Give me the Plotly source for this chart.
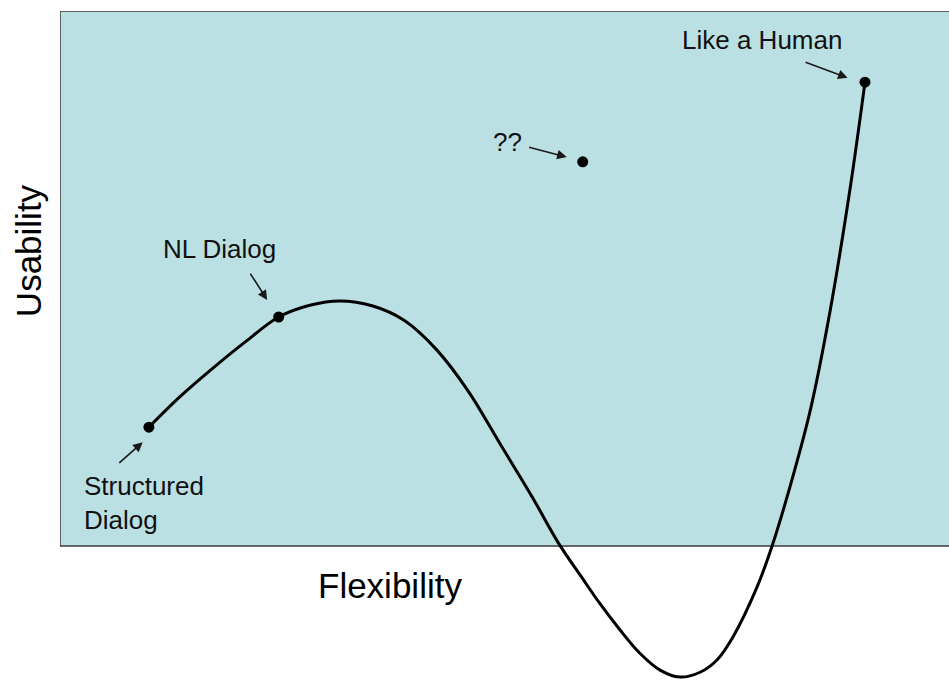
import plotly.graph_objects as go

# Curve (Flexibility vs Usability) (0-100 units)
curve_x = [10.0, 13.5, 17.1, 20.8, 24.6, 28.1, 31.5, 35.1, 38.7, 42.3, 45.9, 49.5,
           53.1, 56.2, 58.5, 60.7, 63.0, 65.2, 67.5, 69.7, 72.0, 73.9, 75.7, 78.4,
           80.1, 82.1, 84.4, 86.6, 88.9, 90.55]
curve_y = [22.2, 27.9, 33.1, 38.1, 42.8, 45.0, 45.8, 44.9, 42.2, 36.8, 29.0, 19.1,
           9.2, 0.2, -5.4, -10.7, -15.7, -20.0, -23.2, -24.5, -23.6, -21.3, -17.0, -7.7,
           0.0, 11.0, 25.4, 43.7, 67.1, 86.7]

# Highlighted points
point_names = ["Structured Dialog", "NL Dialog", "??", "Like a Human"]
point_x = [10.0, 24.6, 58.8, 90.55]
point_y = [22.2, 42.8, 71.8, 86.7]

# Labels: text, centre x, centre y
label_text = ["Like a Human", "??", "NL Dialog", "Structured<br>Dialog"]
label_x = [79.0, 50.3, 17.9, 2.5]
label_y = [94.6, 75.5, 55.5, 8.0]

# Arrows: tail (x, y) -> head (x, y)
arrow_tail_x = [83.7, 52.6, 21.3, 6.5]
arrow_tail_y = [90.5, 74.6, 51.2, 15.3]
arrow_head_x = [88.6, 57.0, 23.3, 9.3]
arrow_head_y = [87.5, 72.7, 46.0, 19.4]

FONT = "Arial, Liberation Sans, sans-serif"

fig = go.Figure()
fig.add_trace(go.Scatter(x=curve_x, y=curve_y, mode="lines",
                         line=dict(color="black", width=3, shape="spline", smoothing=1.0),
                         hoverinfo="skip", showlegend=False))
fig.add_trace(go.Scatter(x=point_x, y=point_y, mode="markers", text=point_names,
                         marker=dict(color="black", size=11),
                         showlegend=False))

shapes = [
    dict(type="rect", xref="x", yref="y", x0=0, x1=100, y0=0, y1=100,
         fillcolor="#bbe0e3", line=dict(width=0), layer="below"),
    dict(type="line", xref="x", yref="y", x0=0, x1=0, y0=0, y1=100,
         line=dict(color="#3a3a3a", width=1.5), layer="below"),
    dict(type="line", xref="x", yref="y", x0=0, x1=100, y0=100, y1=100,
         line=dict(color="#3a3a3a", width=1.5), layer="below"),
    dict(type="line", xref="x", yref="y", x0=0, x1=100, y0=0, y1=0,
         line=dict(color="#3a3a3a", width=1.5), layer="below"),
]

annotations = []
for t, x, y in zip(label_text, label_x, label_y):
    anchor = "left" if t.startswith("Structured") else "center"
    annotations.append(dict(x=x, y=y, xref="x", yref="y", text=t, showarrow=False,
                            xanchor=anchor, yanchor="middle", align="left",
                            font=dict(family=FONT, size=26, color="#111111")))
for tx, ty, hx, hy in zip(arrow_tail_x, arrow_tail_y, arrow_head_x, arrow_head_y):
    annotations.append(dict(x=hx, y=hy, ax=tx, ay=ty, xref="x", yref="y",
                            axref="x", ayref="y", text="", showarrow=True,
                            arrowhead=2, arrowsize=1.2, arrowwidth=1.6,
                            arrowcolor="#1a1a1a", standoff=0))
annotations.append(dict(x=37.1, y=-7.3, xref="x", yref="y", text="Flexibility",
                        showarrow=False, xanchor="center", yanchor="middle",
                        font=dict(family=FONT, size=35, color="black")))
annotations.append(dict(x=-0.036, y=55.3, xref="paper", yref="y", text="Usability",
                        showarrow=False, textangle=-90, xanchor="center", yanchor="middle",
                        font=dict(family=FONT, size=35, color="black")))

fig.update_layout(
    width=949, height=680,
    margin=dict(l=60, r=0, t=11, b=0),
    paper_bgcolor="white", plot_bgcolor="white",
    xaxis=dict(range=[0, 100], visible=False, fixedrange=True),
    yaxis=dict(range=[-25.05, 100], visible=False, fixedrange=True),
    shapes=shapes, annotations=annotations,
    showlegend=False,
)

fig.write_html(
    "out.html",
    config={"displayModeBar": False},
    post_script="document.body.style.margin='0';document.body.style.overflow='hidden';",
)
